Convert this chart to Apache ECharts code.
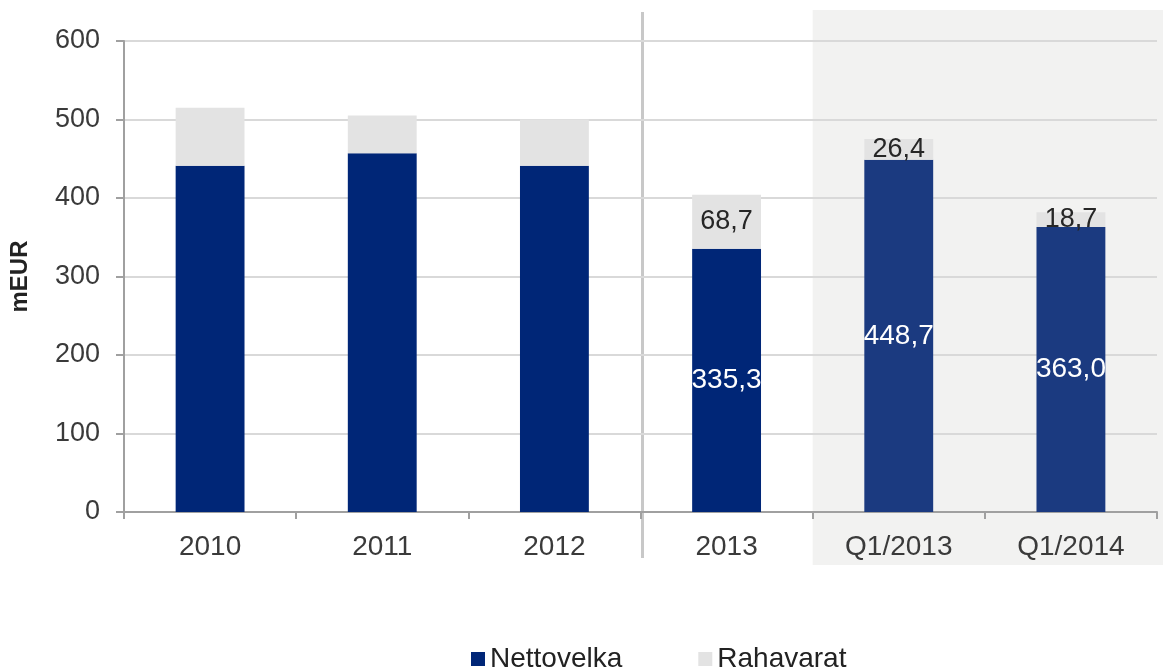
<!DOCTYPE html>
<html>
<head>
<meta charset="utf-8">
<script src="https://cdn.jsdelivr.net/npm/echarts@6/dist/echarts.min.js"></script>
<style>
  html, body { margin: 0; padding: 0; background: #fff; }
  #main { width: 1163px; height: 670px; }
</style>
</head>
<body>
<div id="main"></div>
<script>
var categories = ['2010', '2011', '2012', '2013', 'Q1/2013', 'Q1/2014'];
var nettovelka = [441, 457, 441, 335.3, 448.7, 363.0];
var rahavarat = [74, 48, 59, 68.7, 26.4, 18.7];
var showValues = [false, false, false, true, true, true];
var yTicks = [0, 100, 200, 300, 400, 500, 600];

var font = 'Liberation Sans, Arial, sans-serif';
var shadeFrom = 4; // Q1 columns sit on grey background

function fmt(v) {
  return v.toFixed(1).replace('.', ',');
}

function items(values, colorPlain, colorShade, labelColor) {
  return values.map(function (v, i) {
    return {
      value: v,
      itemStyle: { color: i >= shadeFrom ? colorShade : colorPlain },
      label: { show: showValues[i], color: labelColor }
    };
  });
}

var chart = echarts.init(document.getElementById('main'));

var option = {
  animation: false,
  textStyle: { fontFamily: font },
  grid: { left: 122, right: 6, top: 41, bottom: 158 },
  legend: {
    data: ['Nettovelka', 'Rahavarat'],
    top: 640,
    left: 466,
    itemWidth: 14,
    itemHeight: 14,
    itemGap: 76,
    icon: 'rect',
    textStyle: { fontSize: 28, color: '#222', fontFamily: font }
  },
  xAxis: {
    type: 'category',
    data: categories,
    axisLine: { lineStyle: { color: '#a0a0a0', width: 2 } },
    axisTick: { show: true, length: 7, lineStyle: { color: '#a0a0a0', width: 2 } },
    axisLabel: { fontSize: 28, color: '#3a3a3a', margin: 21, fontFamily: font }
  },
  yAxis: {
    type: 'value',
    min: yTicks[0],
    max: yTicks[yTicks.length - 1],
    interval: 100,
    name: 'mEUR',
    nameLocation: 'middle',
    nameGap: 92,
    nameTextStyle: { fontSize: 24, fontWeight: 'bold', color: '#222', fontFamily: font },
    axisLine: { show: true, lineStyle: { color: '#a0a0a0', width: 2 } },
    axisTick: { show: true, length: 8, lineStyle: { color: '#a0a0a0', width: 2 } },
    axisLabel: { fontSize: 27, color: '#3a3a3a', margin: 24, fontFamily: font },
    splitLine: { lineStyle: { color: '#d9d9d9', width: 2 } }
  },
  series: [{
    name: 'Nettovelka',
    type: 'bar',
    stack: 'total',
    barWidth: '40%',
    itemStyle: { color: '#002677' },
    label: {
      position: 'inside',
      fontSize: 28,
      fontFamily: font,
      formatter: function (p) { return fmt(p.value); }
    },
    data: items(nettovelka, '#002677', '#1b3a80', '#ffffff')
  }, {
    name: 'Rahavarat',
    type: 'bar',
    stack: 'total',
    itemStyle: { color: '#e3e3e3' },
    label: {
      position: 'inside',
      fontSize: 27,
      fontFamily: font,
      formatter: function (p) { return fmt(p.value); }
    },
    data: items(rahavarat, '#e3e3e3', '#e3e3e3', '#262626')
  }]
};

chart.setOption(option);

// background panel for the quarterly columns and the divider before 2013
var c0 = chart.convertToPixel({ xAxisIndex: 0 }, categories[0]);
var c1 = chart.convertToPixel({ xAxisIndex: 0 }, categories[1]);
var band = c1 - c0;
var shadeX = chart.convertToPixel({ xAxisIndex: 0 }, categories[shadeFrom]) - band / 2;
var divX = chart.convertToPixel({ xAxisIndex: 0 }, categories[3]) - band / 2 + 2;

chart.setOption({
  graphic: [{
    type: 'rect',
    z: -10,
    silent: true,
    shape: { x: shadeX, y: 10, width: chart.getWidth() - shadeX, height: 555 },
    style: { fill: '#f2f2f1' }
  }, {
    type: 'line',
    z: -5,
    silent: true,
    shape: { x1: divX, y1: 12, x2: divX, y2: 558 },
    style: { stroke: '#c8c8c8', lineWidth: 3 }
  }]
});
</script>
</body>
</html>
